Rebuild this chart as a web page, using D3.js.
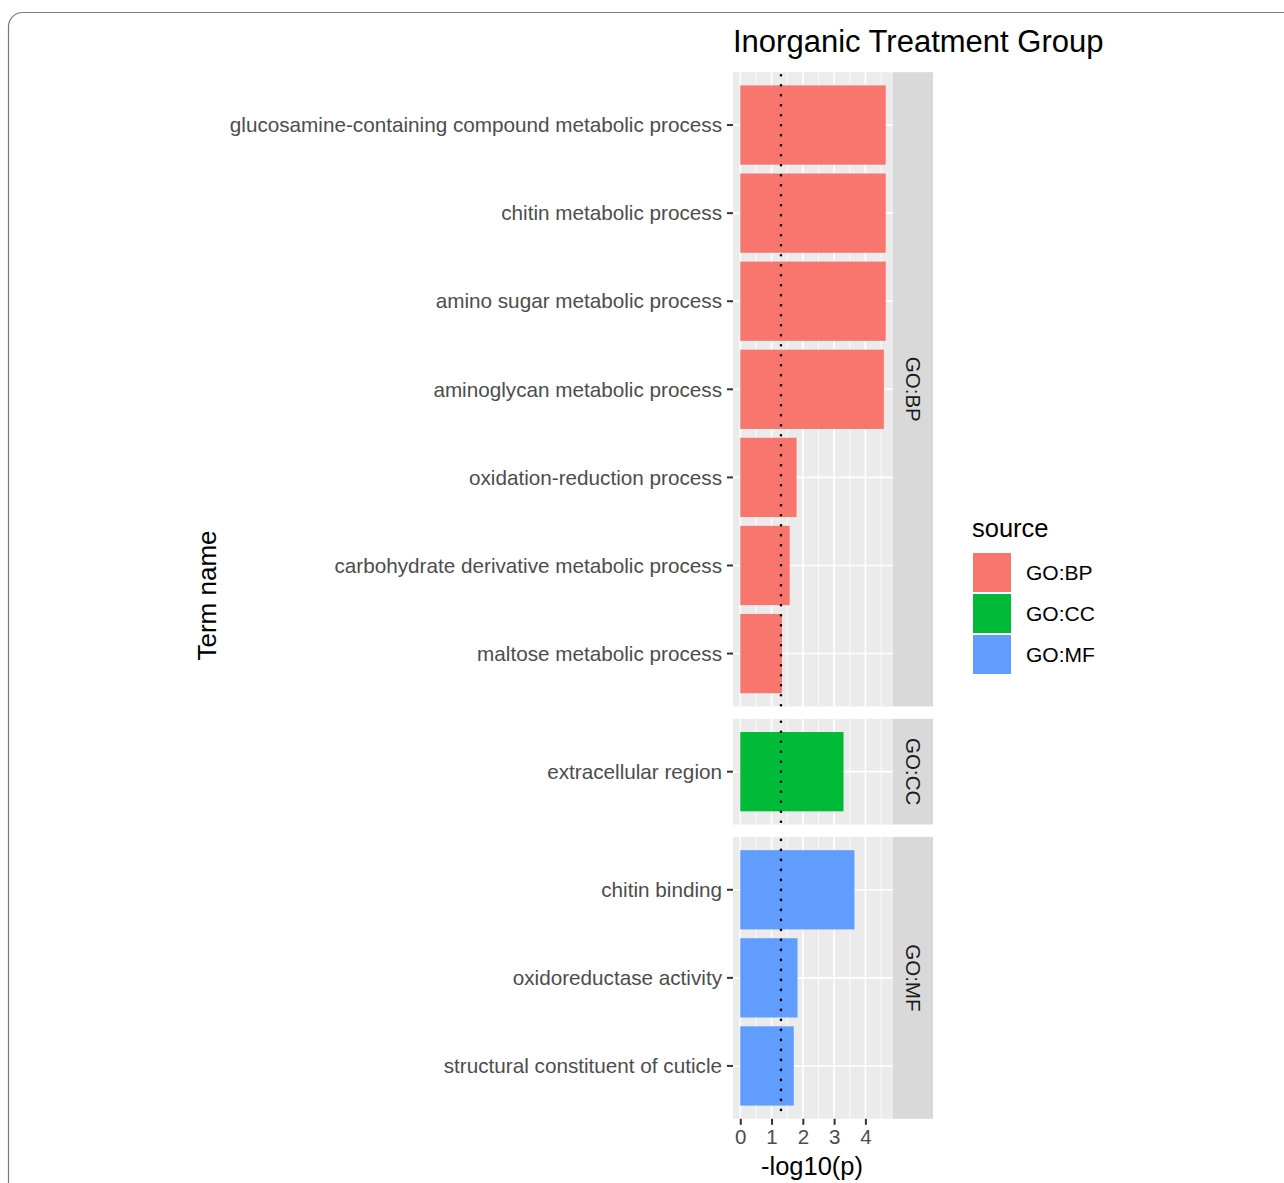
<!DOCTYPE html>
<html>
<head>
<meta charset="utf-8">
<script src="https://cdn.jsdelivr.net/npm/d3@7"></script>
<style>
  html, body { margin: 0; padding: 0; background: #fff; }
  svg { display: block; font-family: "Liberation Sans", Arial, Helvetica, sans-serif; }
</style>
</head>
<body>
<svg id="chart" width="1284" height="1183"></svg>
<script>
// GO enrichment terms, top to bottom within each facet
const terms = [
  "glucosamine-containing compound metabolic process",
  "chitin metabolic process",
  "amino sugar metabolic process",
  "aminoglycan metabolic process",
  "oxidation-reduction process",
  "carbohydrate derivative metabolic process",
  "maltose metabolic process",
  "extracellular region",
  "chitin binding",
  "oxidoreductase activity",
  "structural constituent of cuticle"
];
const negLogP = [4.65, 4.65, 4.65, 4.59, 1.80, 1.58, 1.33, 3.30, 3.65, 1.83, 1.71];
const sources = ["GO:BP", "GO:BP", "GO:BP", "GO:BP", "GO:BP", "GO:BP", "GO:BP",
                 "GO:CC", "GO:MF", "GO:MF", "GO:MF"];
const sourceLevels = ["GO:BP", "GO:CC", "GO:MF"];
const sourceColors = ["#F8766D", "#00BA38", "#619CFF"];
const xTicks = [0, 1, 2, 3, 4];
const threshold = -Math.log10(0.05);

const rows = terms.map((t, i) => ({ term: t, value: negLogP[i], source: sources[i] }));

const svg = d3.select("#chart");

// outer frame
svg.append("rect")
  .attr("x", 8.5).attr("y", 12.5).attr("width", 1300).attr("height", 1220)
  .attr("rx", 14).attr("fill", "none").attr("stroke", "#7a7a7a").attr("stroke-width", 1.2);

const panelLeft = 733, panelRight = 893, stripW = 40;
const panelTop = 72.2, panelBottom = 1118.8, gap = 12.4;

const color = d3.scaleOrdinal().domain(sourceLevels).range(sourceColors);

const xMax = d3.max(negLogP);
const pad = xMax * 0.05;
const x = d3.scaleLinear().domain([-pad, xMax + pad]).range([panelLeft, panelRight]);

// facet heights proportional to number of terms (+0.2 for expansion)
const facets = sourceLevels.map(s => ({ source: s, rows: rows.filter(r => r.source === s) }));
const totalUnits = d3.sum(facets, f => f.rows.length + 0.2);
const unitPx = (panelBottom - panelTop - gap * (facets.length - 1)) / totalUnits;

let cursor = panelTop;
facets.forEach(f => {
  f.top = cursor;
  f.height = (f.rows.length + 0.2) * unitPx;
  cursor += f.height + gap;
});

const minorTicks = d3.range(0.5, xMax + pad, 1);

facets.forEach(f => {
  const g = svg.append("g");
  const y = d3.scaleBand()
    .domain(f.rows.map(r => r.term))
    .range([f.top, f.top + f.height])
    .paddingInner(0.1).paddingOuter(0.15);

  // panel background
  g.append("rect")
    .attr("x", panelLeft).attr("y", f.top)
    .attr("width", panelRight - panelLeft).attr("height", f.height)
    .attr("fill", "#EBEBEB");

  // minor vertical grid
  g.selectAll(".minor").data(minorTicks).join("line")
    .attr("x1", d => x(d)).attr("x2", d => x(d))
    .attr("y1", f.top).attr("y2", f.top + f.height)
    .attr("stroke", "#fff").attr("stroke-width", 0.8);
  // major vertical grid
  g.selectAll(".major").data(xTicks).join("line")
    .attr("x1", d => x(d)).attr("x2", d => x(d))
    .attr("y1", f.top).attr("y2", f.top + f.height)
    .attr("stroke", "#fff").attr("stroke-width", 1.6);
  // major horizontal grid at each term
  g.selectAll(".hgrid").data(f.rows).join("line")
    .attr("x1", panelLeft).attr("x2", panelRight)
    .attr("y1", d => y(d.term) + y.bandwidth() / 2)
    .attr("y2", d => y(d.term) + y.bandwidth() / 2)
    .attr("stroke", "#fff").attr("stroke-width", 1.6);

  // bars
  g.selectAll(".bar").data(f.rows).join("rect")
    .attr("x", x(0))
    .attr("y", d => y(d.term))
    .attr("width", d => x(d.value) - x(0))
    .attr("height", y.bandwidth())
    .attr("fill", d => color(d.source));

  // significance threshold (p = 0.05)
  g.append("line")
    .attr("x1", x(threshold)).attr("x2", x(threshold))
    .attr("y1", f.top + 3).attr("y2", f.top + f.height)
    .attr("stroke", "#000").attr("stroke-width", 2.6)
    .attr("stroke-dasharray", "0 10").attr("stroke-linecap", "round");

  // y axis: ticks and labels
  const yAxis = d3.axisLeft(y).tickSize(6).tickPadding(5);
  const ya = g.append("g").attr("transform", `translate(${panelLeft},0)`).call(yAxis);
  ya.select(".domain").remove();
  ya.selectAll(".tick line").attr("stroke", "#333").attr("stroke-width", 2);
  ya.selectAll(".tick text")
    .attr("fill", "#4D4D4D").style("font-size", "20.7px")
    .attr("dy", "0.35em");

  // facet strip
  g.append("rect")
    .attr("x", panelRight).attr("y", f.top)
    .attr("width", stripW).attr("height", f.height)
    .attr("fill", "#D9D9D9");
  g.append("text")
    .attr("transform", `translate(${panelRight + stripW / 2},${f.top + f.height / 2}) rotate(90)`)
    .attr("text-anchor", "middle").attr("dy", "0.35em")
    .attr("fill", "#1A1A1A").style("font-size", "20.5px")
    .text(f.source);
});

// x axis
const xa = svg.append("g").attr("transform", `translate(0,${panelBottom})`)
  .call(d3.axisBottom(x).tickValues(xTicks).tickSize(6).tickPadding(5).tickFormat(d3.format("d")));
xa.select(".domain").remove();
xa.selectAll(".tick line").attr("stroke", "#333").attr("stroke-width", 2);
xa.selectAll(".tick text").attr("fill", "#4D4D4D").style("font-size", "20.5px");

// axis titles
svg.append("text")
  .attr("x", (panelLeft + panelRight) / 2 - 1).attr("y", 1175)
  .attr("text-anchor", "middle").style("font-size", "25.5px").attr("fill", "#000")
  .text("-log10(p)");
svg.append("text")
  .attr("transform", `translate(216,${(panelTop + panelBottom) / 2}) rotate(-90)`)
  .attr("text-anchor", "middle").style("font-size", "26px").attr("fill", "#000")
  .text("Term name");

// title
svg.append("text")
  .attr("x", panelLeft).attr("y", 52)
  .style("font-size", "31px").attr("fill", "#000")
  .text("Inorganic Treatment Group");

// legend
const lg = svg.append("g").attr("transform", "translate(972,0)");
lg.append("text").attr("x", 0).attr("y", 537)
  .style("font-size", "25.5px").attr("fill", "#000").text("source");
sourceLevels.forEach((s, i) => {
  const ky = 553 + i * 41;
  lg.append("rect").attr("x", 1).attr("y", ky).attr("width", 38).attr("height", 39)
    .attr("fill", color(s));
  lg.append("text").attr("x", 54).attr("y", ky + 20).attr("dy", "0.35em")
    .style("font-size", "21px").attr("fill", "#000").text(s);
});
</script>
</body>
</html>
